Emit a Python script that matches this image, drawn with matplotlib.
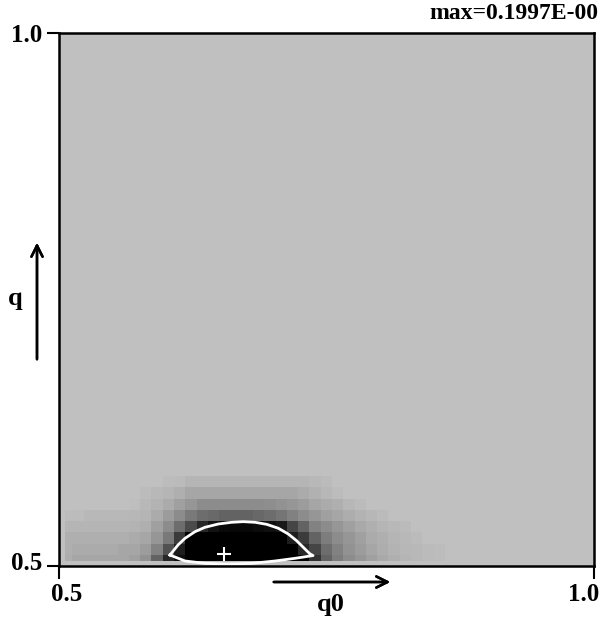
import numpy as np
import matplotlib
matplotlib.use("Agg")
import matplotlib.pyplot as plt
import matplotlib.transforms as mtransforms
from matplotlib.colors import LinearSegmentedColormap

# ---------- Data ----------
# cell edges of the q0 / q grid (first column/row is a partial cell)
Q0_EDGES = np.r_[0.5056, 0.5125 + 0.01055 * np.arange(34)]
Q_EDGES = np.r_[0.5047, 0.5103 + 0.01059 * np.arange(8)]

# probability values, rows from bottom (q ~ 0.5) to top
ROW0 = [0.010, 0.014, 0.014, 0.014, 0.014, 0.014, 0.017, 0.024, 0.048, 0.079,
        0.092, 0.130, 0.160, 0.185, 0.1997, 0.195, 0.185, 0.170, 0.155, 0.140,
        0.125, 0.105, 0.074, 0.048, 0.035, 0.027, 0.022, 0.017, 0.012, 0.009,
        0.006, 0.004, 0.003, 0.002]
ROW1 = [0.009, 0.011, 0.011, 0.011, 0.011, 0.014, 0.014, 0.019, 0.032, 0.058,
        0.084, 0.112, 0.140, 0.160, 0.172, 0.175, 0.170, 0.160, 0.145, 0.130,
        0.112, 0.079, 0.064, 0.043, 0.032, 0.024, 0.019, 0.014, 0.010, 0.007,
        0.005, 0.004, 0.003, 0.002]
ROW2 = [0.009, 0.009, 0.009, 0.009, 0.009, 0.009, 0.011, 0.014, 0.022, 0.037,
        0.069, 0.101, 0.118, 0.132, 0.140, 0.143, 0.140, 0.133, 0.122, 0.108,
        0.084, 0.069, 0.048, 0.035, 0.027, 0.022, 0.017, 0.011, 0.009, 0.006,
        0.004, 0.003, 0.000, 0.000]
ROW3 = [0.006, 0.006, 0.006, 0.006, 0.006, 0.006, 0.007, 0.009, 0.017, 0.027,
        0.043, 0.061, 0.079, 0.090, 0.095, 0.096, 0.096, 0.094, 0.092, 0.087,
        0.064, 0.048, 0.032, 0.027, 0.022, 0.017, 0.012, 0.009, 0.006, 0.004,
        0.003, 0.000, 0.000, 0.000]
ROW4 = [0.002, 0.002, 0.004, 0.004, 0.004, 0.004, 0.005, 0.006, 0.011, 0.019,
        0.027, 0.037, 0.043, 0.045, 0.048, 0.048, 0.048, 0.046, 0.043, 0.039,
        0.033, 0.027, 0.022, 0.017, 0.014, 0.010, 0.007, 0.005, 0.003, 0.000,
        0.000, 0.000, 0.000, 0.000]
ROW5 = [0.000, 0.000, 0.000, 0.000, 0.000, 0.000, 0.001, 0.004, 0.007, 0.011,
        0.017, 0.022, 0.027, 0.027, 0.027, 0.027, 0.027, 0.027, 0.026, 0.024,
        0.022, 0.019, 0.014, 0.011, 0.009, 0.005, 0.003, 0.000, 0.000, 0.000,
        0.000, 0.000, 0.000, 0.000]
ROW6 = [0.000, 0.000, 0.000, 0.000, 0.000, 0.000, 0.000, 0.002, 0.004, 0.006,
        0.009, 0.014, 0.014, 0.014, 0.014, 0.014, 0.014, 0.014, 0.014, 0.014,
        0.014, 0.011, 0.008, 0.005, 0.002, 0.000, 0.000, 0.000, 0.000, 0.000,
        0.000, 0.000, 0.000, 0.000]
ROW7 = [0.000, 0.000, 0.000, 0.000, 0.000, 0.000, 0.000, 0.000, 0.000, 0.002,
        0.003, 0.006, 0.006, 0.006, 0.006, 0.006, 0.006, 0.006, 0.006, 0.006,
        0.006, 0.006, 0.004, 0.003, 0.000, 0.000, 0.000, 0.000, 0.000, 0.000,
        0.000, 0.000, 0.000, 0.000]

# contour line (half of max)
CONTOUR_Q0 = [0.6037, 0.6112, 0.6178, 0.6271, 0.6364, 0.6489, 0.6614, 0.6722,
              0.6832, 0.6941, 0.7050, 0.7143, 0.7221, 0.7283, 0.7346, 0.7374,
              0.7206, 0.7019, 0.6801, 0.6582, 0.6364, 0.6178, 0.6037]
CONTOUR_Q = [0.5103, 0.5197, 0.5260, 0.5322, 0.5363, 0.5394, 0.5410, 0.5416,
             0.5410, 0.5391, 0.5354, 0.5300, 0.5237, 0.5175, 0.5113, 0.5098,
             0.5072, 0.5047, 0.5025, 0.5019, 0.5025, 0.5047, 0.5103]

PEAK = (0.6542, 0.5117)
MAX_VALUE = 0.1997

# ---------- Style ----------
BG = "#c0c0c0"
plt.rcParams["font.family"] = ["Liberation Serif", "DejaVu Serif"]
plt.rcParams["font.weight"] = "bold"

Z = np.array([ROW0, ROW1, ROW2, ROW3, ROW4, ROW5, ROW6, ROW7])
cmap = LinearSegmentedColormap.from_list("prob", [BG, "black"])
cmap.set_over("black")

# ---------- Figure ----------
fig = plt.figure(figsize=(6.04, 6.21), dpi=100)
ax = fig.add_axes([59 / 604, 55 / 621, 535 / 604, 533 / 621])
ax.set_facecolor(BG)

ax.pcolormesh(Q0_EDGES, Q_EDGES, Z, cmap=cmap, vmin=0, vmax=MAX_VALUE / 2)
ax.plot(CONTOUR_Q0, CONTOUR_Q, color="white", lw=2)
ax.plot(*PEAK, marker="+", color="white", ms=10, mew=1.5)

ax.set_xlim(0.5, 1.0)
ax.set_ylim(0.5, 1.0)
ax.set_xticks([0.5, 1.0], ["0.5", "1.0"])
ax.set_yticks([0.5, 1.0], ["0.5", "1.0"])
ax.tick_params(length=9, width=1.5, labelsize=18, pad=3)
for s in ax.spines.values():
    s.set_linewidth(1.8)

# nudge the end labels inward like the original
xl = ax.get_xticklabels()
xl[0].set_transform(xl[0].get_transform() +
                    mtransforms.ScaledTranslation(8 / 100, 0, fig.dpi_scale_trans))
xl[1].set_transform(xl[1].get_transform() +
                    mtransforms.ScaledTranslation(-10 / 100, 0, fig.dpi_scale_trans))
yl = ax.get_yticklabels()
yl[0].set_transform(yl[0].get_transform() +
                    mtransforms.ScaledTranslation(0, 5 / 100, fig.dpi_scale_trans))

fig.text(0.990, 0.978, f"max={MAX_VALUE:.4f}E-00", ha="right", va="center",
         fontsize=17, fontweight="bold")

# axis direction arrows and names
fig.add_artist(plt.annotate("", xy=(393 / 604, 1 - 582 / 621),
                            xytext=(271 / 604, 1 - 582 / 621),
                            xycoords="figure fraction",
                            arrowprops=dict(arrowstyle="->", lw=1.8,
                                            mutation_scale=20)))
fig.add_artist(plt.annotate("", xy=(37 / 604, 1 - 240 / 621),
                            xytext=(37 / 604, 1 - 362 / 621),
                            xycoords="figure fraction",
                            arrowprops=dict(arrowstyle="->", lw=1.8,
                                            mutation_scale=20)))
fig.text(331 / 604, 1 - 604 / 621, "q0", ha="center", va="center",
         fontsize=19, fontweight="bold")
fig.text(15 / 604, 1 - 298 / 621, "q", ha="center", va="center",
         fontsize=19, fontweight="bold")

fig.savefig("out.png", dpi=100, facecolor="white")
